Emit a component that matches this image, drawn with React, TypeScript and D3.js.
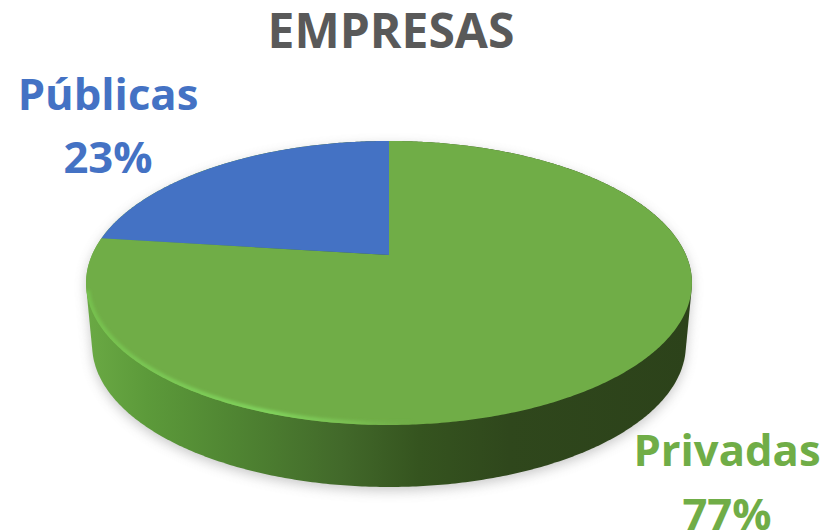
import * as d3 from 'd3'

const categories = ['Privadas', 'Públicas']
const values = [77, 23]
const sliceColors = ['#70ad47', '#4472c4']
const titleText = 'EMPRESAS'

const width = 826
const height = 532
const cx = 389
const cy = 255
const R = 297
const S = 136.5
const k = 0.197 // perspective of the tilted disc
const sideDrop = 62
const FONT = '"Open Sans", "Noto Sans", sans-serif'

type Pt = [number, number]

// angle on the disc -> screen position
const project = (a: number): Pt => {
  const u = Math.sin(a)
  const v = -Math.cos(a)
  const w = 1 - k * v
  return [cx + (R * u) / w, cy + (S * v) / w]
}
const projectBottom = (a: number): Pt => {
  const [x, y] = project(a)
  return [cx + (x - cx) * 0.98, y + sideDrop]
}

const line = d3.line<Pt>()
const sweep = (a0: number, a1: number) => {
  const n = Math.max(2, Math.ceil(Math.abs(a1 - a0) / 0.01))
  return d3.range(n + 1).map(i => a0 + ((a1 - a0) * i) / n)
}

const pie = d3.pie<number>().sort(null)
const arcs = pie(values)

const fullTurn = sweep(0, Math.PI * 2)
const silhouette = d3.polygonHull([...fullTurn.map(project), ...fullTurn.map(projectBottom)]) as Pt[]
const topEdge = line(fullTurn.map(project)) + 'Z'

const labels = [
  { name: categories[1], value: values[1], color: sliceColors[1], x: 108, y: 110, y2: 173 },
  { name: categories[0], value: values[0], color: sliceColors[0], x: 727, y: 466, y2: 530 },
]

export default function App() {
  return (
    <svg
      width={width}
      height={height}
      viewBox={`0 0 ${width} ${height}`}
      style={{ position: 'absolute', left: 0, top: 0, background: '#fff' }}
    >
      <defs>
        <linearGradient id="side" gradientUnits="userSpaceOnUse" x1={87} x2={691} y1={0} y2={0}>
          <stop offset="0" stopColor="#6aa944" />
          <stop offset="0.1" stopColor="#5c9a3a" />
          <stop offset="0.25" stopColor="#4f8432" />
          <stop offset="0.42" stopColor="#42692a" />
          <stop offset="0.55" stopColor="#35541f" />
          <stop offset="0.7" stopColor="#2f471c" />
          <stop offset="1" stopColor="#2c421a" />
        </linearGradient>
        <linearGradient id="rim" gradientUnits="userSpaceOnUse" x1={87} x2={691} y1={0} y2={0}>
          <stop offset="0" stopColor="#76c04e" />
          <stop offset="0.3" stopColor="#80d25c" />
          <stop offset="0.45" stopColor="#78bd50" />
          <stop offset="0.56" stopColor="#70ad47" stopOpacity={0} />
          <stop offset="1" stopColor="#70ad47" stopOpacity={0} />
        </linearGradient>
        <filter id="soft" x="-10%" y="-10%" width="120%" height="120%">
          <feGaussianBlur stdDeviation="6" />
        </filter>
        <filter id="softRim" x="-5%" y="-5%" width="110%" height="110%">
          <feGaussianBlur stdDeviation="1.5" />
        </filter>
        <clipPath id="faceClip">
          <path d={topEdge} />
        </clipPath>
      </defs>

      <path d={line(silhouette) + 'Z'} fill="#8a8a8a" opacity={0.45} filter="url(#soft)" transform="translate(0,4)" />
      <path d={line(silhouette) + 'Z'} fill="url(#side)" />

      {arcs.map((d, i) => (
        <path
          key={categories[i]}
          d={line([[cx, cy], ...sweep(d.startAngle, d.endAngle).map(project)]) + 'Z'}
          fill={sliceColors[i]}
        />
      ))}

      {/* bevel only on the front half of the top face */}
      <g clipPath="url(#faceClip)">
        <path
          d={line(sweep(Math.PI * 0.98, Math.PI * 1.42).map(project)) as string}
          fill="none"
          stroke="url(#rim)"
          strokeWidth={7}
          filter="url(#softRim)"
        />
      </g>

      <text x={391} y={48} textAnchor="middle" fill="#595959" fontFamily={FONT} fontWeight={700} fontSize={48}>
        {titleText}
      </text>
      {labels.map(l => (
        <g key={l.name} fill={l.color} fontFamily={FONT} fontWeight={700} fontSize={43.6} textAnchor="middle">
          <text x={l.x} y={l.y}>{l.name}</text>
          <text x={l.x} y={l.y2}>{`${l.value}%`}</text>
        </g>
      ))}
    </svg>
  )
}
